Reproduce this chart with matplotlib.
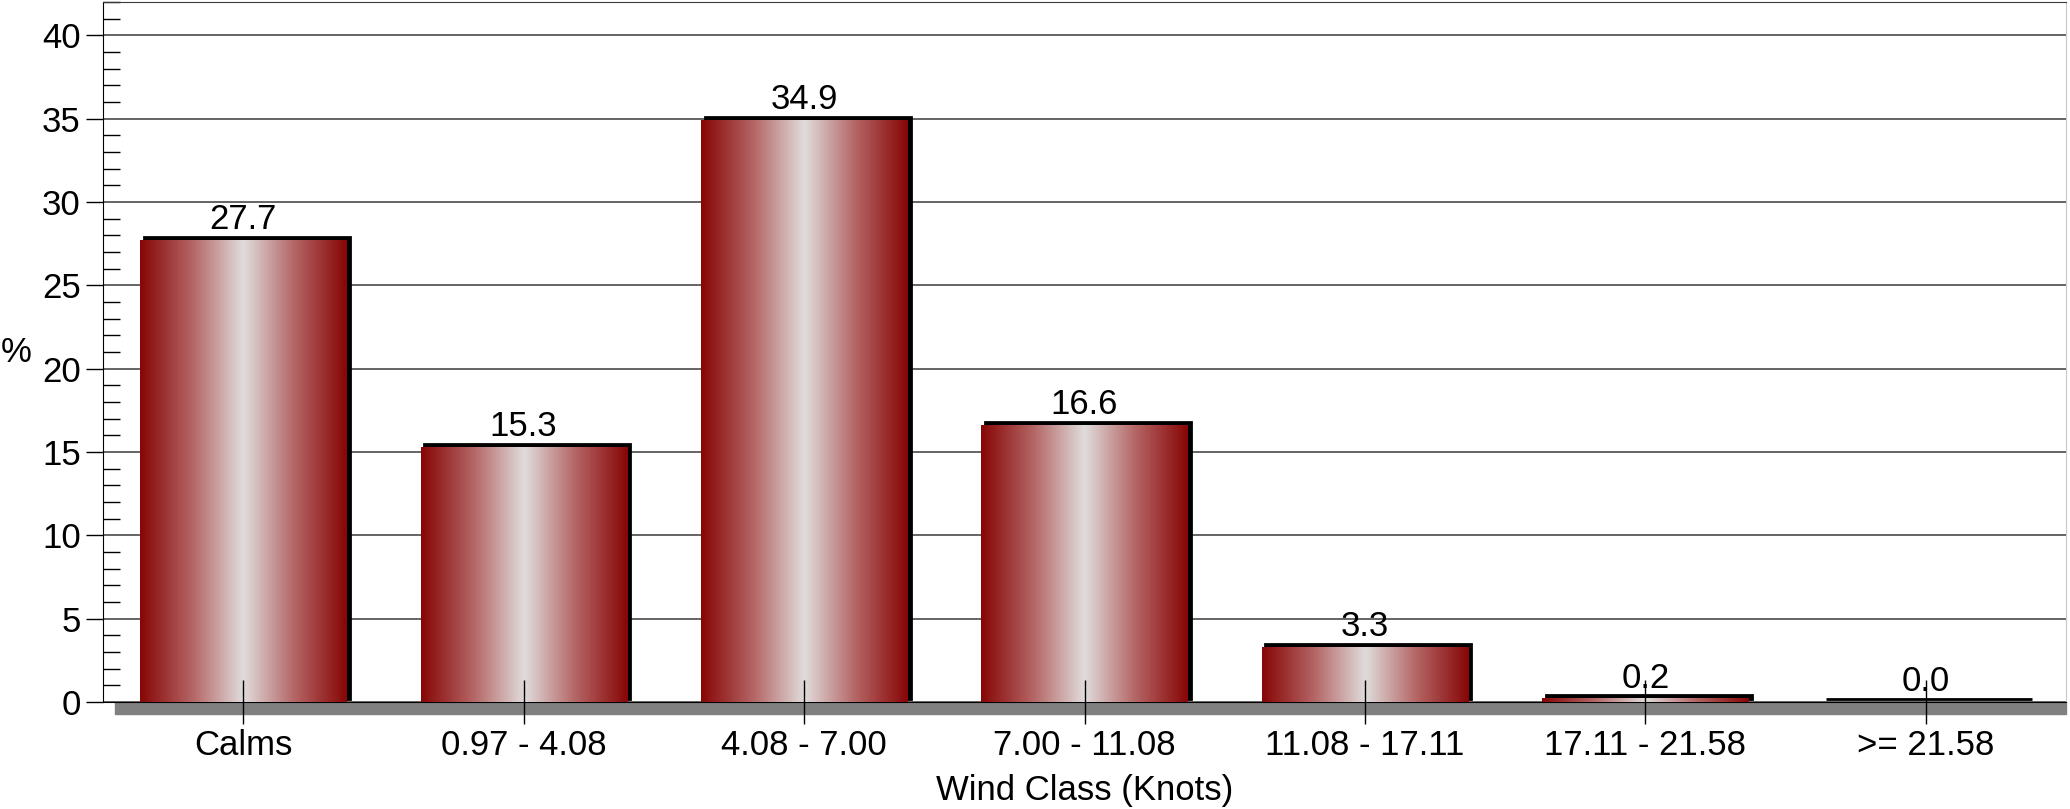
import numpy as np
import matplotlib.pyplot as plt
from matplotlib.colors import LinearSegmentedColormap
from matplotlib.patches import Rectangle
from matplotlib.ticker import MultipleLocator
from matplotlib.transforms import ScaledTranslation

plt.rcParams["font.family"] = ["Liberation Sans", "DejaVu Sans"]

categories = ["Calms", "0.97 - 4.08", "4.08 - 7.00", "7.00 - 11.08",
              "11.08 - 17.11", "17.11 - 21.58", ">= 21.58"]
percent = [27.7, 15.3, 34.9, 16.6, 3.3, 0.2, 0.0]

FS = 25

fig = plt.figure(figsize=(20.7, 8.09), dpi=100)
ax = fig.add_axes([103 / 2070, 107 / 809, 1963 / 2070, 700 / 809])

x = np.arange(len(categories))
width = 0.735

# dark red -> light grey -> dark red across each bar
cmap = LinearSegmentedColormap.from_list(
    "barshade", ["#870606", "#b46464", "#e0dcdc", "#b46464", "#870606"])
grad = np.linspace(0, 1, 256).reshape(1, -1)

# black shadow, shifted a few pixels right and up
shift = ax.transData + ScaledTranslation(3.5 / 100, 3.5 / 100, fig.dpi_scale_trans)
ax.bar(x, percent, width, color="black", edgecolor="black", linewidth=2,
       transform=shift, zorder=2)

bars = ax.bar(x, percent, width, color="none", zorder=3)
for b in bars:
    ax.imshow(grad, cmap=cmap, aspect="auto", zorder=3,
              extent=(b.get_x(), b.get_x() + b.get_width(), 0, b.get_height()))

for xi, v in zip(x, percent):
    ax.annotate(f"{v:.1f}", (xi, v), xytext=(0, 8), textcoords="offset points",
                ha="center", va="baseline", fontsize=FS, zorder=5)

# grey floor under the baseline
ax.add_patch(Rectangle((0.006, -0.017), 0.994, 0.017, transform=ax.transAxes,
                       color="#808080", clip_on=False, zorder=1))

ax.set_xlim(-0.5, len(categories) - 0.5)
ax.set_ylim(0, 42)
ax.set_xticks(x)
ax.set_xticklabels(categories, fontsize=FS)
ax.yaxis.set_major_locator(MultipleLocator(5))
ax.yaxis.set_minor_locator(MultipleLocator(1))
ax.tick_params(axis="x", direction="inout", length=31, width=1, pad=4)
ax.tick_params(axis="y", which="major", direction="out", length=12, width=1,
               labelsize=FS, pad=4)
ax.tick_params(axis="y", which="minor", direction="in", length=12, width=1)

ax.grid(axis="y", which="major", color="#3a3a3a", linewidth=1.1)
ax.set_axisbelow(True)
ax.xaxis.set_zorder(6)

ax.spines["left"].set_color("black")
ax.spines["bottom"].set_color("black")
ax.spines["top"].set_color("#3a3a3a")
ax.spines["right"].set_color("#c8c8c8")

ax.set_xlabel("Wind Class (Knots)", fontsize=FS)
ax.xaxis.set_label_coords(0.5, -0.126)
ax.xaxis.label.set_va("center")
ax.set_ylabel("%", fontsize=FS, rotation=0, ha="left", va="center")
ax.yaxis.set_label_coords(-0.052, 0.5)

fig.savefig("out.png", dpi=100)
